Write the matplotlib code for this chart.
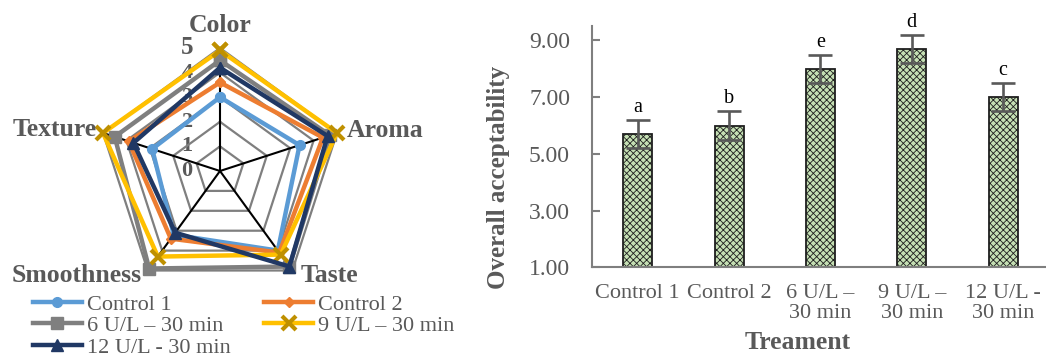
import numpy as np
import matplotlib
matplotlib.use('Agg')
import matplotlib.pyplot as plt

# ---------------- data ----------------
attributes = ['Color', 'Aroma', 'Taste', 'Smoothness', 'Texture']
series_names = ['Control 1', 'Control 2', '6 U/L – 30 min', '9 U/L – 30 min', '12 U/L - 30 min']
control1 = [3.0, 3.4, 4.0, 3.2, 2.9]
control2 = [3.6, 4.4, 4.1, 3.4, 3.9]
u6_30 = [4.5, 4.7, 4.8, 4.9, 4.5]
u9_30 = [4.9, 5.0, 4.2, 4.3, 5.0]
u12_30 = [4.2, 4.6, 4.8, 3.1, 3.7]
radar_ticks = [0, 1, 2, 3, 4, 5]

treatments = ['Control 1', 'Control 2', '6 U/L –\n30 min', '9 U/L –\n30 min', '12 U/L -\n30 min']
acceptability = [5.7, 6.0, 8.0, 8.7, 7.0]
acc_err = [0.5, 0.5, 0.5, 0.5, 0.5]
letters = ['a', 'b', 'e', 'd', 'c']
y_ticks = [1, 3, 5, 7, 9]

# ---------------- style ----------------
plt.rcParams['font.family'] = ['Liberation Serif', 'DejaVu Serif']
plt.rcParams['hatch.linewidth'] = 0.6
GRAY_TXT = '#595959'

W, H = 1046, 353
fig = plt.figure(figsize=(W / 100, H / 100), dpi=100)

# ---------------- radar ----------------
cx, cy, R = 220, 171, 123
ax = fig.add_axes([(cx - R) / W, (H - cy - R) / H, 2 * R / W, 2 * R / H], projection='polar')
ax.set_theta_offset(np.pi / 2)
ax.set_theta_direction(-1)
ax.set_ylim(0, 5)
ax.grid(False)
ax.set_xticks([])
ax.set_yticks([])
ax.spines['polar'].set_visible(False)
ax.patch.set_alpha(0)

n = len(attributes)
ang = np.arange(n) * 2 * np.pi / n
ang_c = np.append(ang, ang[0])

for k in radar_ticks[1:]:
    ax.plot(ang_c, [k] * (n + 1), color='#7f7f7f', lw=1.6, zorder=1, clip_on=False)
for a in ang:
    ax.plot([a, a], [0, 5], color='black', lw=1.5, zorder=1.5, clip_on=False)

styles = [
    dict(color='#5B9BD5', marker='o', ms=7, mfc='#5B9BD5', mec='#5B9BD5'),
    dict(color='#ED7D31', marker='D', ms=5, mfc='#ED7D31', mec='#ED7D31'),
    dict(color='#7F7F7F', marker='s', ms=8, mfc='#7F7F7F', mec='#7F7F7F'),
    dict(color='#FFC000', marker='x', ms=10, mfc='#BF9000', mec='#BF9000', mew=3),
    dict(color='#203864', marker='^', ms=9, mfc='#203864', mec='#203864'),
]
series = [control1, control2, u6_30, u9_30, u12_30]
handles = []
for name, vals, st in zip(series_names, series, styles):
    v = list(vals) + [vals[0]]
    ln, = ax.plot(ang_c, v, lw=3.2, label=name, zorder=3, clip_on=False, **st)
    handles.append(ln)

for k in radar_ticks:
    ax.annotate(str(k), xy=(0, k), xytext=(-33, 0), textcoords='offset pixels',
                ha='center', va='center', fontsize=18 if k == 5 else 16,
                fontweight='bold', color=GRAY_TXT, zorder=0.5, annotation_clip=False)

label_offsets = [((0, 22), 'center'), ((10, 2), 'left'), ((8, -5), 'left'),
                 ((-6, -5), 'right'), ((-6, 3), 'right')]
for a, lab, (off, ha) in zip(ang, attributes, label_offsets):
    ax.annotate(lab, xy=(a, 5), xytext=off, textcoords='offset pixels', ha=ha, va='center',
                fontsize=18.5, fontweight='bold', color=GRAY_TXT, annotation_clip=False)

# row-major legend order for 2 columns
order = [0, 2, 4, 1, 3]
leg = fig.legend(handles=[handles[i] for i in order], labels=[series_names[i] for i in order],
                 ncol=2, loc='upper left',
                 bbox_to_anchor=(33 / W, (H - 294) / H), frameon=False, fontsize=16,
                 handlelength=2.2, handletextpad=0.23, columnspacing=1.5,
                 labelspacing=0.05, borderpad=0, borderaxespad=0)
for t in leg.get_texts():
    t.set_color(GRAY_TXT)

# ---------------- bar chart ----------------
left, right, bottom, top = 592, 1046, 267.3, 26.3
ax2 = fig.add_axes([left / W, (H - bottom) / H, (right - left) / W, (bottom - top) / H])
x = np.arange(len(treatments))
ax2.bar(x, acceptability, width=0.317, color='#C5E0B4', edgecolor='#1f1f1f', lw=1.3,
        hatch='xxxxx', zorder=2)
ax2.errorbar(x, acceptability, yerr=acc_err, fmt='none', ecolor='#595959', elinewidth=1.9,
             capsize=8.4, capthick=1.9, zorder=3)
for i, (v, e, l) in enumerate(zip(acceptability, acc_err, letters)):
    ax2.annotate(l, xy=(i, v + e), xytext=(0, 3), textcoords='offset pixels', ha='center',
                 va='bottom', fontsize=14.5, color='black', annotation_clip=False)

ax2.set_xlim(-0.5, 4.47)
ax2.set_ylim(1, 9.5)
ax2.set_yticks(y_ticks)
ax2.set_yticklabels([f'{t:.2f}' for t in y_ticks])
ax2.set_xticks(x)
ax2.set_xticklabels(treatments, linespacing=1.1)
for s in ['top', 'right']:
    ax2.spines[s].set_visible(False)
for s in ['left', 'bottom']:
    ax2.spines[s].set_color('#7f7f7f')
    ax2.spines[s].set_linewidth(1.5)
ax2.tick_params(axis='y', direction='in', length=6, width=1.5, color='#7f7f7f',
                pad=15.8, labelsize=17, labelcolor=GRAY_TXT)
ax2.tick_params(axis='x', length=0, pad=12, labelsize=16, labelcolor=GRAY_TXT)
ax2.patch.set_alpha(0)

ax2.set_ylabel('Overall acceptability', fontsize=18, fontweight='bold', color=GRAY_TXT)
ax2.yaxis.label.set_va('center')
ax2.yaxis.set_label_coords(-0.207, 0.373)
ax2.set_xlabel('Treament', fontsize=18.5, fontweight='bold', color=GRAY_TXT)
ax2.xaxis.label.set_va('center')
ax2.xaxis.set_label_coords(0.454, -0.31)

fig.savefig('out.png', dpi=100)
